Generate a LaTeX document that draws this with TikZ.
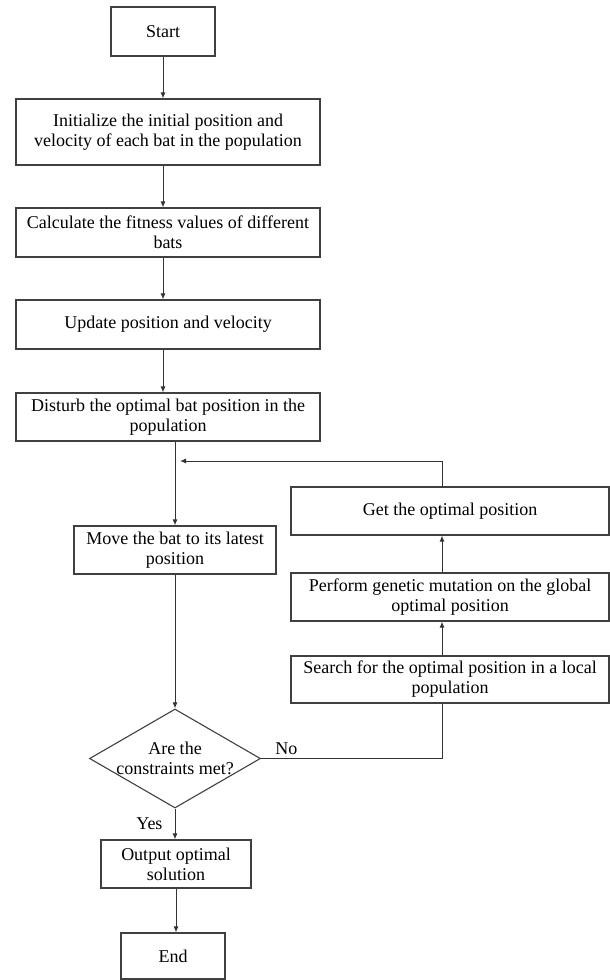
\documentclass[tikz,border=0pt]{standalone}
\usepackage{fontspec}
\setmainfont{Liberation Serif}
\usetikzlibrary{shapes.geometric}
\usetikzlibrary{arrows.meta}
\tikzset{%
    box/.style={draw=black!75,line width=1.1pt,rectangle,align=center,inner sep=2pt,
        font=\fontsize{18}{20}\selectfont},
    decision/.style={draw=black!75,line width=1.1pt,diamond,inner sep=0pt}
}

\begin{document}
\begin{tikzpicture}[x=1pt,y=-1pt,
            edge/.style={line width=1pt,draw=black!80,-{Latex[length=6pt,width=5pt]}},
            line/.style={line width=1pt,draw=black!80},
            lbl/.style={font=\fontsize{18}{20}\selectfont}
            ]
            \useasboundingbox (0,0) rectangle (610,980);
            \node[box,minimum width=104pt,minimum height=49pt] (start) at (163,31.5) {Start};
            \node[box,minimum width=304pt,minimum height=66pt] (init) at (168,132) {Initialize the initial position and\\velocity of each bat in the population};
            \node[box,minimum width=304pt,minimum height=49pt] (calc) at (168,232.5) {Calculate the fitness values of different\\bats};
            \node[box,minimum width=304pt,minimum height=49pt] (update) at (168,324.5) {Update position and velocity};
            \node[box,minimum width=304pt,minimum height=48pt] (disturb) at (168,417) {Disturb the optimal bat position in the\\population};
            \node[box,minimum width=202pt,minimum height=48pt] (move) at (175,550) {Move the bat to its latest\\position};
            \node[box,minimum width=318pt,minimum height=48pt] (get) at (450,511) {Get the optimal position};
            \node[box,minimum width=318pt,minimum height=48pt] (perform) at (450,597) {Perform genetic mutation on the global\\optimal position};
            \node[box,minimum width=318pt,minimum height=47pt] (search) at (450,679.5) {Search for the optimal position in a local\\population};
            \node[decision,minimum width=171pt,minimum height=99pt] (check) at (175,758.5) {};
            \node[lbl,align=center] (checktext) at (check) {Are the\\constraints met?};
            \node[box,minimum width=150pt,minimum height=48pt] (output) at (176,864) {Output optimal\\solution};
            \node[box,minimum width=104pt,minimum height=46pt] (end) at (173,956) {End};
            \coordinate (turn) at (442,461);
            \draw[edge] (start.south) -- (start.south |- init.north);
            \draw[edge] (start.south |- init.south) -- (start.south |- calc.north);
            \draw[edge] (start.south |- calc.south) -- (start.south |- update.north);
            \draw[edge] (start.south |- update.south) -- (start.south |- disturb.north);
            \draw[edge] (move.north |- disturb.south) -- (move.north);
            \draw[edge] (move.south) -- (check.north);
            \draw[edge] (check.south) -- node[lbl,left,inner sep=12pt] {Yes} (check.south |- output.north);
            \draw[edge] (output.south) -- (output.south |- end.north);
            \draw[line] (check.east) -- node[lbl,above,pos=0.14] {No} (check.east -| turn) -- (search.south -| turn);
            \draw[edge] (search.north -| turn) -- (perform.south -| turn);
            \draw[edge] (perform.north -| turn) -- (get.south -| turn);
            \draw[edge,shorten >=5pt] (get.north -| turn) -- (turn) -- (turn -| move.north);
        \end{tikzpicture}
\end{document}
